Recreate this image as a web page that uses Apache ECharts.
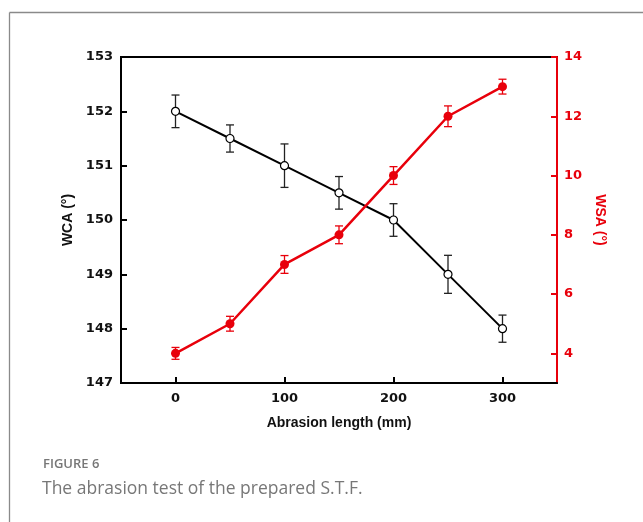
<!DOCTYPE html>
<html>
<head>
<meta charset="UTF-8">
<title>Abrasion test</title>
<script src="https://cdn.jsdelivr.net/npm/echarts@6/dist/echarts.min.js"></script>
<style>
  html, body { margin: 0; padding: 0; background: #fff; }
  #chart { width: 643px; height: 522px; }
</style>
</head>
<body>
<div id="chart"></div>
<script>
// abrasion length (mm)
var lengths = [0, 50, 100, 150, 200, 250, 300];
// water contact angle and its error
var wca = [152, 151.5, 151, 150.5, 150, 149, 148];
var wcaErr = [0.3, 0.25, 0.4, 0.3, 0.3, 0.35, 0.25];
// water sliding angle and its error
var wsa = [4, 5, 7, 8, 10, 12, 13];
var wsaErr = [0.2, 0.25, 0.3, 0.3, 0.3, 0.35, 0.25];
// tick labels
var xTicks = [0, 100, 200, 300];
var wsaTicks = [4, 6, 8, 10, 12, 14];

var RED = '#e8000b';
var chart = echarts.init(document.getElementById('chart'));

function pairs(ys) {
  return lengths.map(function (x, i) { return [x, ys[i]]; });
}
function bars(ys, err) {
  return lengths.map(function (x, i) { return [x, ys[i] - err[i], ys[i] + err[i]]; });
}
function errorBar(color) {
  return function (params, api) {
    var x = api.value(0);
    var lo = api.coord([x, api.value(1)]);
    var hi = api.coord([x, api.value(2)]);
    var w = 4;
    var st = { stroke: color, lineWidth: 1.3 };
    return {
      type: 'group',
      children: [
        { type: 'line', shape: { x1: lo[0], y1: lo[1], x2: hi[0], y2: hi[1] }, style: st },
        { type: 'line', shape: { x1: lo[0] - w, y1: lo[1], x2: lo[0] + w, y2: lo[1] }, style: st },
        { type: 'line', shape: { x1: hi[0] - w, y1: hi[1], x2: hi[0] + w, y2: hi[1] }, style: st }
      ]
    };
  };
}

var tickFont = { fontFamily: 'DejaVu Sans', fontWeight: 'bold', fontSize: 13 };
var nameFont = { fontFamily: 'Liberation Sans', fontWeight: 'bold', fontSize: 14 };

var option = {
  animation: false,
  backgroundColor: '#fff',
  grid: {
    left: 121, right: 86, top: 57, bottom: 139,
    show: true, borderColor: '#000', borderWidth: 2, backgroundColor: 'transparent'
  },
  xAxis: {
    type: 'value',
    min: -50, max: 350,
    name: 'Abrasion length (mm)',
    nameLocation: 'middle',
    nameGap: 33,
    nameTextStyle: Object.assign({ color: '#111' }, nameFont),
    axisLine: { show: true, onZero: false, lineStyle: { color: '#000', width: 2 } },
    axisTick: { show: true, inside: true, length: 6, customValues: xTicks, lineStyle: { color: '#000', width: 2 } },
    axisLabel: Object.assign({ color: '#111', margin: 9, customValues: xTicks }, tickFont),
    splitLine: { show: false }
  },
  yAxis: [
    {
      type: 'value',
      min: 147, max: 153, interval: 1,
      name: 'WCA (°)',
      nameLocation: 'middle',
      nameGap: 44,
      nameRotate: 90,
      nameTextStyle: Object.assign({ color: '#111' }, nameFont),
      axisLine: { show: true, onZero: false, lineStyle: { color: '#000', width: 2 } },
      axisTick: { show: true, inside: true, length: 6, lineStyle: { color: '#000', width: 2 } },
      axisLabel: Object.assign({ color: '#111', margin: 8, showMinLabel: true, showMaxLabel: true }, tickFont),
      splitLine: { show: false }
    },
    {
      type: 'value',
      position: 'right',
      min: 3, max: 14,
      name: 'WSA (°)',
      nameLocation: 'middle',
      nameGap: 35,
      nameRotate: -90,
      nameTextStyle: Object.assign({ color: RED }, nameFont),
      axisLine: { show: true, onZero: false, lineStyle: { color: RED, width: 2 } },
      axisTick: { show: true, inside: true, length: 6, customValues: wsaTicks, lineStyle: { color: RED, width: 2 } },
      axisLabel: Object.assign({ color: RED, margin: 7, customValues: wsaTicks }, tickFont),
      splitLine: { show: false }
    }
  ],
  series: [
    {
      name: 'WCA',
      type: 'line',
      yAxisIndex: 0,
      data: pairs(wca),
      symbol: 'circle',
      symbolSize: 8,
      z: 4,
      lineStyle: { color: '#000', width: 2 },
      itemStyle: { color: '#fff', borderColor: '#000', borderWidth: 1.2 }
    },
    {
      name: 'WCA error',
      type: 'custom',
      yAxisIndex: 0,
      data: bars(wca, wcaErr),
      renderItem: errorBar('#222'),
      z: 3
    },
    {
      name: 'WSA',
      type: 'line',
      yAxisIndex: 1,
      data: pairs(wsa),
      symbol: 'circle',
      symbolSize: 9,
      z: 4,
      lineStyle: { color: RED, width: 2.5 },
      itemStyle: { color: RED }
    },
    {
      name: 'WSA error',
      type: 'custom',
      yAxisIndex: 1,
      data: bars(wsa, wsaErr),
      renderItem: errorBar(RED),
      z: 3
    }
  ],
  graphic: [
    { type: 'line', shape: { x1: 9.5, y1: 12.5, x2: 643, y2: 12.5 }, style: { stroke: '#8a8a8a', lineWidth: 1.3 } },
    { type: 'line', shape: { x1: 9.5, y1: 12.5, x2: 9.5, y2: 522 }, style: { stroke: '#8a8a8a', lineWidth: 1.3 } },
    { type: 'text', left: 43, top: 458, style: { text: 'FIGURE 6', fill: '#777', font: '600 13px "Open Sans"' } },
    { type: 'text', left: 42, top: 480, style: { text: 'The abrasion test of the prepared S.T.F.', fill: '#777', font: '17.5px "Open Sans"' } }
  ]
};
chart.setOption(option);
</script>
</body>
</html>
